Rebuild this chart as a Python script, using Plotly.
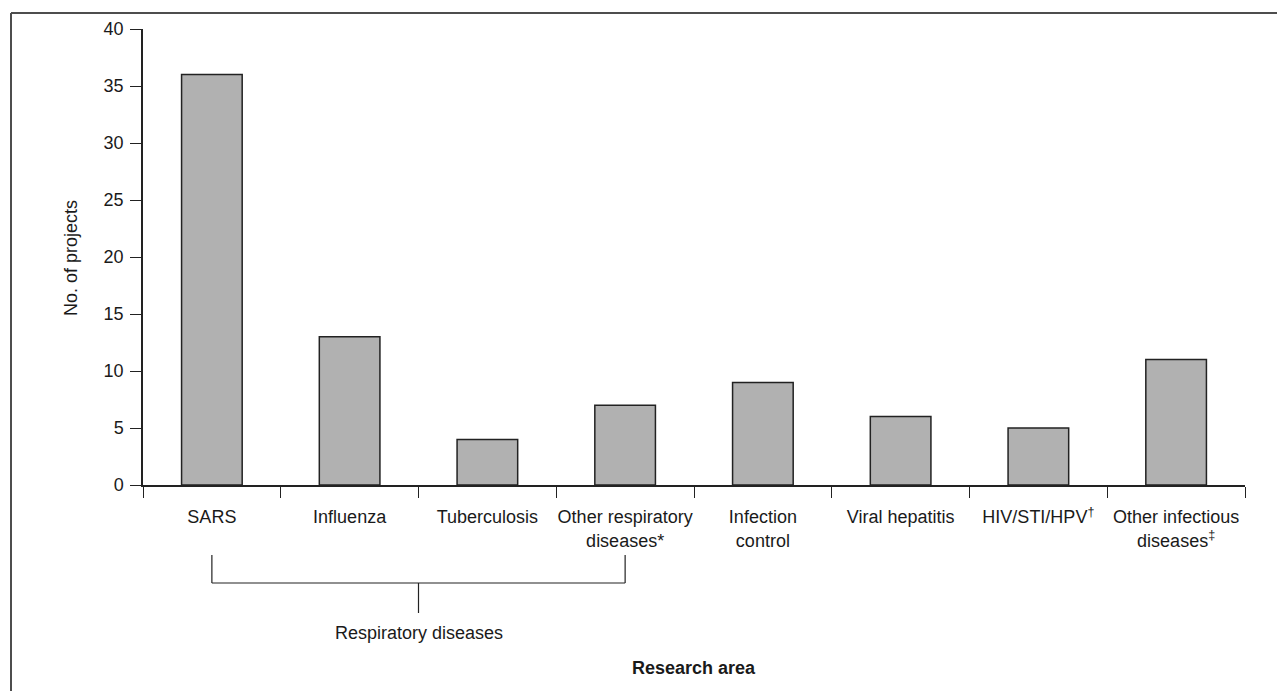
import plotly.graph_objects as go

categories = ["SARS", "Influenza", "Tuberculosis", "Other respiratory<br>diseases*",
              "Infection<br>control", "Viral hepatitis", "HIV/STI/HPV<sup>†</sup>",
              "Other infectious<br>diseases<sup>‡</sup>"]
projects = [36, 13, 4, 7, 9, 6, 5, 11]
y_ticks = [0, 5, 10, 15, 20, 25, 30, 35, 40]
group_label = "Respiratory diseases"
group_span = (0, 3)
x_title = "Research area"
y_title = "No. of projects"

OFF = 8  # page body margin
W, H = 1285 - OFF, 691 - OFF
# target page-pixel positions of the plot area
PL, PR, PT, PB = 143, 1245, 29, 485
L, T = PL - OFF, PT - OFF
R = W - (PR - OFF)
B = H - (PB - OFF)
pw, ph = PR - PL, PB - PT

def px_x(x):
    return (x - PL) / pw

def px_y(y):
    return (PB - y) / ph

FONT = "Arial, Liberation Sans, sans-serif"
TXT = "#1a1a1a"
FS = 18

fig = go.Figure(go.Bar(
    x=categories, y=projects,
    marker=dict(color="#b1b1b1", line=dict(color="#222222", width=1.5)),
    width=0.44,
))

shapes = []
fc = "#4d4d4d"
shapes.append(dict(type="line", xref="paper", yref="paper",
                   x0=px_x(11), x1=px_x(1300), y0=px_y(13), y1=px_y(13),
                   line=dict(color=fc, width=2)))
shapes.append(dict(type="line", xref="paper", yref="paper",
                   x0=px_x(11), x1=px_x(11), y0=px_y(13), y1=px_y(700),
                   line=dict(color=fc, width=2)))
a, b = group_span
mid = (a + b) / 2
bc = "#222222"
for xv in (a, b):
    shapes.append(dict(type="line", xref="x", yref="paper", x0=xv, x1=xv,
                       y0=px_y(555), y1=px_y(583), line=dict(color=bc, width=1.2)))
shapes.append(dict(type="line", xref="x", yref="paper", x0=a, x1=b,
                   y0=px_y(583), y1=px_y(583), line=dict(color=bc, width=1.2)))
shapes.append(dict(type="line", xref="x", yref="paper", x0=mid, x1=mid,
                   y0=px_y(583), y1=px_y(613), line=dict(color=bc, width=1.2)))

annotations = [
    dict(text=group_label, xref="x", yref="paper", x=mid, y=px_y(633),
         showarrow=False, xanchor="center", yanchor="middle",
         font=dict(family=FONT, size=FS, color=TXT)),
    dict(text="<b>" + x_title + "</b>", xref="paper", yref="paper", x=0.5, y=px_y(668),
         showarrow=False, xanchor="center", yanchor="middle",
         font=dict(family=FONT, size=FS, color=TXT)),
    dict(text=y_title, xref="paper", yref="paper", x=px_x(71), y=px_y(258),
         showarrow=False, xanchor="center", yanchor="middle", textangle=-90,
         font=dict(family=FONT, size=FS, color=TXT)),
]

fig.update_layout(
    width=W, height=H,
    margin=dict(l=L, r=R, t=T, b=B, pad=0),
    paper_bgcolor="white", plot_bgcolor="white",
    showlegend=False,
    font=dict(family=FONT, size=FS, color=TXT),
    shapes=shapes, annotations=annotations,
    xaxis=dict(type="category", range=[-0.5, len(categories) - 0.5],
               tickson="boundaries", ticks="outside", ticklen=11, tickwidth=1.2,
               tickcolor="#222222", showline=True, linecolor="#222222", linewidth=1.5,
               showgrid=False, zeroline=False, tickangle=0, ticklabelstandoff=15,
               tickfont=dict(family=FONT, size=FS, color=TXT)),
    yaxis=dict(range=[0, 40], tickvals=y_ticks, ticks="outside", ticklen=11,
               tickwidth=1.2, tickcolor="#222222", showline=True, linecolor="#222222",
               linewidth=1.5, showgrid=False, zeroline=False, ticklabelstandoff=3,
               tickfont=dict(family=FONT, size=FS, color=TXT)),
)

fig.write_html("out.html")
